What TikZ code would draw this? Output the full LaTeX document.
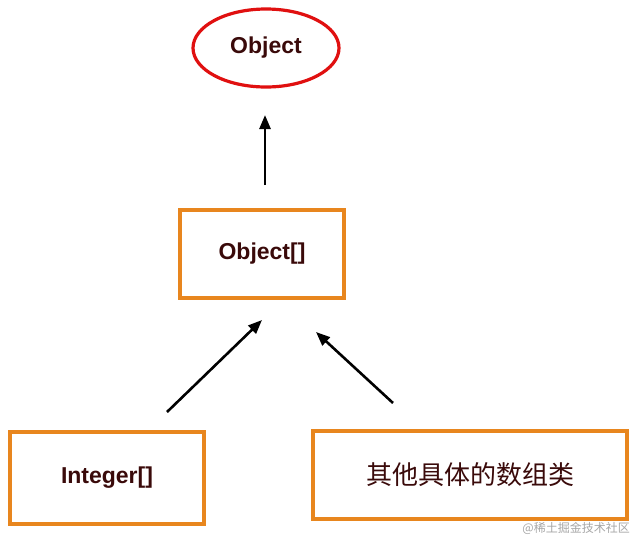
\documentclass[tikz,border=0pt]{standalone}
\usepackage{fontspec}
\setmainfont{Liberation Sans}
\newfontfamily\cjk{Noto Sans CJK SC}
\usetikzlibrary{shapes.geometric,arrows.meta}
\definecolor{txt}{HTML}{3A0A0A}
\definecolor{org}{HTML}{E8861E}
\definecolor{rd}{HTML}{E01010}
\tikzset{
  box/.style={draw=org,line width=3.5pt,fill=white,minimum width=#1,inner sep=0pt,font=\bfseries\fontsize{23}{26}\selectfont,text=txt},
  arr/.style={-{Triangle[length=14pt,width=11pt]},line width=2.6pt,black}
}
\begin{document}
\begin{tikzpicture}[x=1pt,y=-1pt]
\useasboundingbox (0,0) rectangle (636,539);
\node[ellipse,draw=rd,line width=3.2pt,minimum width=146pt,minimum height=78pt,font=\bfseries\fontsize{23}{26}\selectfont,text=txt] (obj) at (266,48) {Object};
\node[box=164pt,minimum height=88pt] (arr) at (262,254) {Object[]};
\node[box=194pt,minimum height=92pt] (int) at (107,478) {Integer[]};
\node[box=314pt,minimum height=88pt,font=\cjk\fontsize{26}{30}\selectfont] (oth) at (470,475) {其他具体的数组类};
\coordinate (a1s) at (265,185); \coordinate (a1e) at (265,115);
\coordinate (a2s) at (167,412); \coordinate (a2e) at (262,320);
\coordinate (a3s) at (393,403); \coordinate (a3e) at (316,332);
\draw[arr] (a1s) -- (a1e);
\draw[arr] (a2s) -- (a2e);
\draw[arr] (a3s) -- (a3e);
\node[anchor=south east,text=gray!70,font=\cjk\fontsize{12}{14}\selectfont,inner sep=2pt] (wm) at (632,537) {@稀土掘金技术社区};
\end{tikzpicture}
\end{document}
